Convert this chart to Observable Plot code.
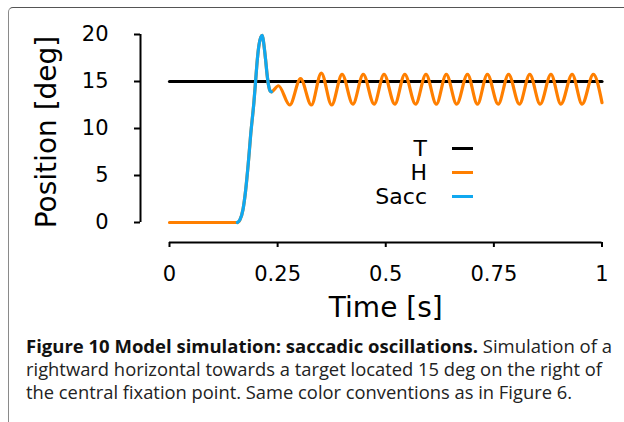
<!DOCTYPE html>
<html>
<head>
<meta charset="utf-8">
<script src="https://cdn.jsdelivr.net/npm/d3@7"></script>
<script src="https://cdn.jsdelivr.net/npm/@observablehq/plot@0.6"></script>
<style>
  html, body { margin: 0; padding: 0; background: #fff; overflow: hidden; }
  body { width: 624px; height: 422px; position: relative; }
  #frame { position: absolute; left: 8px; top: 7px; width: 800px; height: 600px;
           border-top: 1px solid #555; border-left: 1px solid #8a8a8a; border-top-left-radius: 5px; }
  #chart { position: absolute; left: 0; top: 0; }
  .leg { position: absolute; font-family: "DejaVu Sans", sans-serif; font-size: 22px; line-height: 24px;
         left: 300px; width: 127px; text-align: right; color: #000; white-space: nowrap; }
  .sw { position: absolute; left: 452px; width: 21px; height: 3px; }
  #caption { position: absolute; left: 0; top: 330px; }
</style>
</head>
<body>
<div id="frame"></div>
<div id="chart"></div>
<div id="legend"></div>
<svg id="caption" width="624" height="92"></svg>
<script>
// ---- data ----
const xTicks = [0, 0.25, 0.5, 0.75, 1];
const yTicks = [0, 5, 10, 15, 20];
const xLabel = "Time [s]";
const yLabel = "Position [deg]";
const seriesNames = ["T", "H", "Sacc"];
const seriesColors = ["#000000", "#ff7f00", "#10a8f0"];

// Target
const tTime = [0, 1];
const tPos = [15, 15];

// Head/eye position before the saccade
const hFlatTime = [0, 0.157];
const hFlatPos = [0, 0];

// Saccade
const saccTime = [0.157, 0.163, 0.170, 0.176, 0.182, 0.188, 0.195, 0.199, 0.203, 0.207, 0.211, 0.2146, 0.218, 0.222, 0.2255, 0.229, 0.2325, 0.2355];
const saccPos  = [0, 0.3, 1.4, 3.4, 6.2, 9.5, 12.7, 15.0, 17.3, 18.9, 19.7, 19.9, 19.0, 17.4, 15.8, 14.6, 14.0, 13.9];

// Oscillations after the saccade
const oscTime = [0.2355, 0.252, 0.278, 0.303, 0.328, 0.351, 0.375, 0.399, 0.424, 0.448, 0.473, 0.496, 0.521, 0.544, 0.569, 0.593, 0.617, 0.640, 0.664, 0.689, 0.712, 0.735, 0.760, 0.784, 0.809, 0.833, 0.857, 0.882, 0.905, 0.931, 0.954, 0.980, 1.0];
const oscPos  = [13.9, 14.55, 12.5, 15.3, 12.5, 15.9, 12.5, 15.75, 12.6, 15.75, 12.6, 15.75, 12.6, 15.75, 12.6, 15.75, 12.6, 15.75, 12.6, 15.75, 12.6, 15.75, 12.6, 15.75, 12.6, 15.75, 12.6, 15.75, 12.6, 15.75, 12.6, 15.75, 12.75];

const captionBold = "Figure 10 Model simulation: saccadic oscillations.";
const captionLines = [
  " Simulation of a",
  "rightward horizontal towards a target located 15 deg on the right of",
  "the central fixation point. Same color conventions as in Figure 6."
];

// ---- tables ----
const T = tTime.map((t, i) => ({t, v: tPos[i]}));
const Sacc = saccTime.map((t, i) => ({t, v: saccPos[i]}));
const H = [
  ...hFlatTime.map((t, i) => ({t, v: hFlatPos[i]})),
  ...Sacc.slice(1),
  ...oscTime.slice(1).map((t, i) => ({t, v: oscPos[i + 1]}))
];

const chart = Plot.plot({
  width: 624,
  height: 330,
  marginLeft: 169,
  marginRight: 22.5,
  marginTop: 34,
  marginBottom: 108,
  x: {domain: [0, 1]},
  y: {domain: [0, 20]},
  style: {fontFamily: "'DejaVu Sans', sans-serif", fontSize: "21px", color: "#000", background: "transparent", overflow: "visible"},
  marks: [
    Plot.ruleX([0], {dx: -29, strokeWidth: 2}),
    Plot.axisY(yTicks, {dx: -29, tickSize: 6, tickPadding: 26, strokeWidth: 2, label: null, fontSize: 21}),
    Plot.ruleY([0], {dy: 20, strokeWidth: 2}),
    Plot.axisX(xTicks, {dy: 20, tickSize: 5, tickPadding: 19, strokeWidth: 2, label: null, fontSize: 21, tickFormat: d => String(d)}),
    Plot.text([xLabel], {text: d => d, frameAnchor: "bottom", lineAnchor: "bottom", dy: 94, fontSize: 28}),
    Plot.text([yLabel], {text: d => d, frameAnchor: "left", textAnchor: "middle", lineAnchor: "middle", rotate: -90, dx: -122.6, dy: 3.5, fontSize: 28}),
    Plot.line(T, {x: "t", y: "v", stroke: seriesColors[0], strokeWidth: 3.2}),
    Plot.line(H, {x: "t", y: "v", stroke: seriesColors[1], strokeWidth: 3.2, curve: "monotone-x"}),
    Plot.line(Sacc, {x: "t", y: "v", stroke: seriesColors[2], strokeWidth: 3.2, curve: "monotone-x"})
  ]
});
document.getElementById("chart").appendChild(chart);

// legend
const legend = document.getElementById("legend");
seriesNames.forEach((name, i) => {
  const d = document.createElement("div");
  d.className = "leg";
  d.style.top = (137.1 + i * 24) + "px";
  d.textContent = name;
  legend.appendChild(d);
  const s = document.createElement("div");
  s.className = "sw";
  s.style.top = (146.8 + i * 24.2) + "px";
  s.style.background = seriesColors[i];
  legend.appendChild(s);
});

// caption
const svg = d3.select("#caption");
const cx = 26;
const baselines = [23, 46, 68.5];
const rights = [612, 602, 572];
baselines.forEach((b, i) => {
  const t = svg.append("text")
    .attr("x", cx).attr("y", b)
    .attr("font-family", "Open Sans").attr("font-size", 18.5).attr("fill", "#222")
    .attr("textLength", rights[i] - cx).attr("lengthAdjust", "spacingAndGlyphs");
  if (i === 0) {
    t.append("tspan").attr("font-weight", "bold").attr("fill", "#111").text(captionBold);
    t.append("tspan").text(captionLines[0]);
  } else {
    t.text(captionLines[i]);
  }
});
</script>
</body>
</html>
